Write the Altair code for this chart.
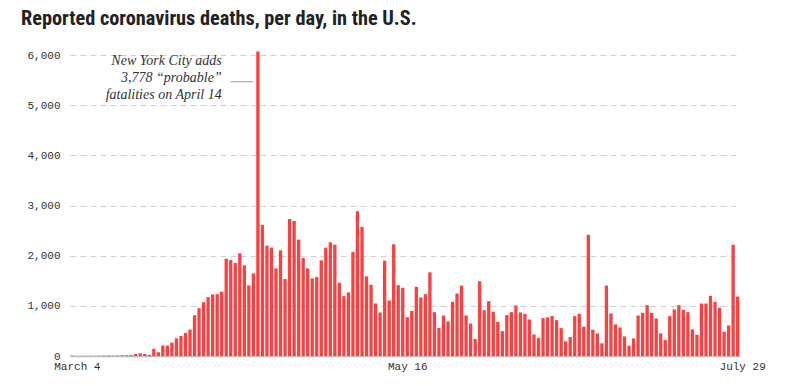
import altair as alt
import pandas as pd

# ---- data ----
start_date = "2020-03-04"
n_days = 148
deaths = [
    9, 2, 3, 3, 5, 4, 6, 8, 10, 8, 12, 14, 13,
    18, 40, 53, 40, 22, 145, 75, 210, 207, 267, 353, 400, 460, 527, 813, 953,
    1073, 1173, 1227, 1233, 1280, 1940, 1913, 1853, 2047, 1807, 1407, 1647, 6070,
    2613, 2200, 2160, 1747, 2107, 1533, 2733, 2693, 2320, 1953, 1747, 1547, 1573,
    1907, 2160, 2267, 2220, 1460, 1193, 1267, 2073,
    2887, 2573, 1587, 1420, 1047, 867, 1900, 1107, 2227, 1413, 1360, 773, 900,
    1380, 1167, 1233, 1667, 873, 560, 805, 690,
    1079, 1245, 1404, 808, 649, 338, 1490, 914, 1093, 881, 682, 497, 815, 874,
    1007, 868, 841, 728, 430, 358, 755, 768, 795, 715, 556, 291, 377, 795, 841,
    583, 2417, 523, 450, 252, 1404, 848, 629, 570, 391, 205, 351, 808,
    861, 1013, 861, 748, 450, 318, 795, 927, 1013, 921, 874, 530, 424, 1046,
    1046, 1199, 1079, 960, 483, 609, 2219, 1185,
]
x_tick_labels = ["March 4", "May 16", "July 29"]
y_ticks = [0, 1000, 2000, 3000, 4000, 5000, 6000]
title_text = "Reported coronavirus deaths, per day, in the U.S."
note_lines = ["New York City adds", "3,778 \u201cprobable\u201d", "fatalities on April 14"]
note_day = "April 6"
note_values = [5886, 5540, 5200]
leader_days = ["April 8", "April 13"]
leader_value = 5467

dates = pd.date_range(start_date, periods=n_days, freq="D")
days = [d.strftime("%B ") + str(d.day) for d in dates]

bars_df = pd.DataFrame({"day": days, "deaths": deaths})
note_df = pd.DataFrame({"day": [note_day] * 3, "value": note_values, "text": note_lines})
leader_df = pd.DataFrame({"day": [leader_days[0]], "day2": [leader_days[1]], "value": [leader_value]})

x_scale = alt.Scale(domain=days, paddingInner=0.27, paddingOuter=0.15)
y_scale = alt.Scale(domain=[0, 6000], nice=False)

bars = alt.Chart(bars_df).mark_bar(color="#fd3f3f").encode(
    x=alt.X("day:O", scale=x_scale, sort=None, title=None,
            axis=alt.Axis(values=x_tick_labels, labelAngle=0, ticks=False,
                          labelFont="Liberation Mono", labelFontSize=11,
                          labelColor="#333", labelOffset=5, labelPadding=4,
                          domainColor="#bbb", domainWidth=1.5, grid=False)),
    y=alt.Y("deaths:Q", scale=y_scale, title=None,
            axis=alt.Axis(values=y_ticks, format=",d", ticks=False, domain=False,
                          labelFont="Liberation Mono", labelFontSize=11,
                          labelColor="#333", labelPadding=10,
                          grid=True, gridColor="#d0d0d0", gridDash=[6, 4],
                          gridWidth=1)),
)

note = alt.Chart(note_df).mark_text(
    align="right", baseline="middle", font="Liberation Serif",
    fontStyle="italic", fontSize=14, color="#333",
).encode(
    x=alt.X("day:O", scale=x_scale, sort=None),
    y=alt.Y("value:Q", scale=y_scale),
    text="text:N",
)

leader = alt.Chart(leader_df).mark_rule(color="#999", strokeWidth=1).encode(
    x=alt.X("day:O", scale=x_scale, sort=None),
    x2="day2:O",
    y=alt.Y("value:Q", scale=y_scale),
)

chart = alt.layer(bars, note, leader).properties(
    width=670,
    height=301,
    title=alt.TitleParams(
        title_text, anchor="start", frame="group", dx=-49, offset=20,
        font="Liberation Sans Narrow, Roboto Condensed, Arial Narrow, sans-serif",
        fontSize=20.3, fontWeight="bold", color="#222",
    ),
    autosize=alt.AutoSizeParams(type="none"),
    padding={"left": 62, "top": 47, "right": 62, "bottom": 22},
).configure_view(stroke=None)

chart.save("out.html", embed_options={"renderer": "svg", "actions": False})
